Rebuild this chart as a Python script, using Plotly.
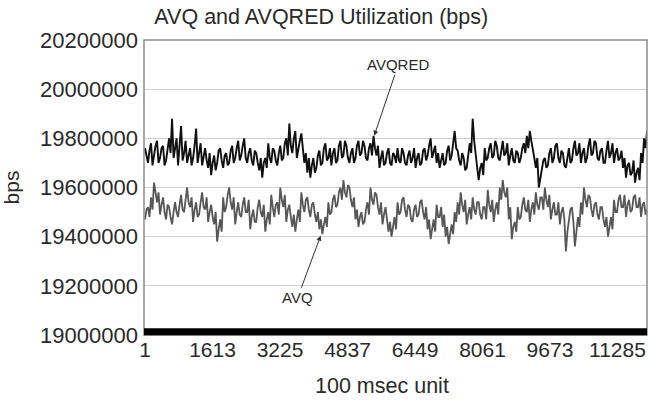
import plotly.graph_objects as go

# Values, in thousands of bps, one sample every STEP time units
STEP = 35.9
avqred_k = [
    19760, 19720, 19700, 19750, 19780, 19690, 19730, 19770, 19790, 19700,
    19720, 19760, 19770, 19690, 19710, 19760, 19800, 19740, 19880, 19720,
    19760, 19800, 19690, 19770, 19850, 19710, 19740, 19790, 19700, 19730,
    19760, 19690, 19720, 19770, 19840, 19700, 19750, 19780, 19690, 19730,
    19760, 19710, 19680, 19740, 19650, 19700, 19730, 19670, 19700, 19750,
    19760, 19710, 19680, 19730, 19740, 19690, 19700, 19750, 19770, 19700,
    19720, 19760, 19790, 19710, 19730, 19770, 19800, 19720, 19700, 19740,
    19760, 19710, 19690, 19750, 19740, 19700, 19670, 19720, 19640, 19700,
    19720, 19680, 19780, 19720, 19700, 19760, 19750, 19710, 19690, 19740,
    19770, 19710, 19720, 19780, 19800, 19730, 19860, 19770, 19740, 19800,
    19830, 19720, 19760, 19790, 19820, 19740, 19700, 19740, 19660, 19720,
    19640, 19690, 19720, 19660, 19680, 19730, 19750, 19690, 19700, 19760,
    19780, 19710, 19720, 19760, 19690, 19740, 19760, 19700, 19710, 19770,
    19790, 19720, 19730, 19790, 19770, 19720, 19700, 19740, 19760, 19700,
    19720, 19770, 19790, 19730, 19740, 19790, 19770, 19720, 19710, 19760,
    19780, 19730, 19810, 19760, 19730, 19770, 19680, 19720, 19750, 19690,
    19700, 19740, 19760, 19700, 19690, 19740, 19730, 19700, 19760, 19710,
    19700, 19760, 19740, 19700, 19690, 19730, 19750, 19700, 19720, 19760,
    19680, 19720, 19740, 19690, 19700, 19750, 19760, 19710, 19730, 19770,
    19800, 19720, 19740, 19770, 19700, 19740, 19680, 19710, 19740, 19690,
    19700, 19750, 19770, 19710, 19730, 19780, 19830, 19760, 19750, 19710,
    19690, 19740, 19720, 19670, 19680, 19730, 19780, 19740, 19880, 19790,
    19720, 19680, 19630, 19680, 19700, 19650, 19760, 19710, 19720, 19760,
    19780, 19720, 19730, 19790, 19770, 19720, 19710, 19760, 19790, 19730,
    19740, 19780, 19690, 19730, 19760, 19710, 19700, 19750, 19740, 19700,
    19720, 19760, 19780, 19740, 19810, 19760, 19830, 19790, 19760, 19720,
    19680, 19720, 19600, 19640, 19660, 19710, 19720, 19680, 19690, 19740,
    19760, 19700, 19720, 19770, 19780, 19720, 19700, 19750, 19740, 19690,
    19680, 19730, 19760, 19700, 19710, 19760, 19790, 19730, 19740, 19780,
    19700, 19740, 19760, 19700, 19720, 19770, 19800, 19730, 19740, 19790,
    19780, 19720, 19710, 19750, 19760, 19700, 19700, 19750, 19790, 19720,
    19740, 19780, 19700, 19740, 19760, 19710, 19720, 19750, 19680, 19720,
    19640, 19690, 19700, 19650, 19660, 19710, 19620, 19660, 19680, 19630,
    19740, 19700, 19800, 19760, 19830,
]
avq_k = [
    19470, 19510, 19520, 19480, 19560, 19510, 19620, 19570, 19540, 19580,
    19490, 19530, 19560, 19500, 19470, 19530, 19520, 19480, 19450, 19500,
    19540, 19500, 19480, 19530, 19570, 19510, 19500, 19550, 19600, 19540,
    19520, 19560, 19460, 19510, 19540, 19480, 19490, 19540, 19580, 19520,
    19510, 19560, 19460, 19500, 19530, 19480, 19450, 19500, 19380, 19430,
    19470, 19420, 19560, 19500, 19520, 19570, 19600, 19540, 19510, 19560,
    19450, 19500, 19540, 19490, 19480, 19530, 19560, 19500, 19500, 19550,
    19430, 19480, 19510, 19460, 19460, 19520, 19550, 19500, 19480, 19530,
    19420, 19470, 19500, 19450, 19570, 19520, 19480, 19530, 19540, 19490,
    19600, 19550, 19520, 19570, 19460, 19510, 19530, 19480, 19440, 19490,
    19420, 19470, 19510, 19460, 19580, 19530, 19500, 19550, 19560, 19510,
    19480, 19530, 19540, 19490, 19460, 19500, 19430, 19470, 19410, 19450,
    19480, 19440, 19540, 19490, 19500, 19550, 19570, 19520, 19530, 19580,
    19600, 19550, 19630, 19580, 19560, 19610, 19600, 19550, 19520, 19560,
    19470, 19510, 19440, 19480, 19500, 19450, 19460, 19510, 19540, 19490,
    19600, 19550, 19530, 19580, 19570, 19520, 19490, 19540, 19450, 19490,
    19520, 19470, 19420, 19460, 19400, 19440, 19480, 19430, 19540, 19490,
    19500, 19550, 19560, 19510, 19480, 19530, 19520, 19470, 19460, 19510,
    19530, 19480, 19490, 19540, 19550, 19500, 19470, 19520, 19430, 19470,
    19390, 19430, 19470, 19420, 19530, 19480, 19480, 19520, 19440, 19490,
    19400, 19440, 19370, 19410, 19450, 19410, 19500, 19460, 19540, 19490,
    19580, 19530, 19500, 19550, 19450, 19490, 19520, 19470, 19560, 19510,
    19490, 19540, 19540, 19490, 19470, 19520, 19520, 19470, 19590, 19530,
    19500, 19550, 19460, 19510, 19540, 19490, 19600, 19550, 19630, 19580,
    19560, 19600, 19470, 19520, 19390, 19440, 19460, 19420, 19520, 19470,
    19480, 19530, 19560, 19510, 19500, 19550, 19460, 19510, 19540, 19490,
    19580, 19530, 19510, 19560, 19560, 19510, 19600, 19550, 19520, 19570,
    19470, 19510, 19540, 19490, 19490, 19540, 19450, 19500, 19520, 19470,
    19340, 19420, 19460, 19510, 19520, 19460, 19360, 19430, 19480, 19440,
    19540, 19490, 19600, 19550, 19520, 19570, 19560, 19510, 19480, 19530,
    19540, 19490, 19470, 19520, 19520, 19470, 19440, 19480, 19400, 19440,
    19480, 19430, 19550, 19500, 19500, 19550, 19570, 19520, 19520, 19570,
    19480, 19530, 19550, 19500, 19510, 19560, 19570, 19520, 19520, 19560,
    19480, 19530, 19540, 19490, 19510,
]
x_ticks = [1, 1613, 3225, 4837, 6449, 8061, 9673, 11285]
y_ticks = [19000000, 19200000, 19400000, 19600000, 19800000, 20000000, 20200000]

x = [1 + i * STEP for i in range(len(avqred_k))]
avqred = [v * 1000 for v in avqred_k]
avq = [v * 1000 for v in avq_k]

FONT = "Liberation Sans"
TXT = "#2a2a2a"

fig = go.Figure()
fig.add_trace(go.Scatter(x=x, y=avq, mode="lines", name="AVQ",
                         line=dict(color="#575757", width=1.8)))
fig.add_trace(go.Scatter(x=x, y=avqred, mode="lines", name="AVQRED",
                         line=dict(color="#101010", width=1.9)))

fig.update_layout(
    width=649, height=401,
    margin=dict(l=144, r=2, t=40, b=66),
    paper_bgcolor="white", plot_bgcolor="white",
    showlegend=False,
    font=dict(family=FONT, size=21, color=TXT),
    title=dict(text="AVQ and AVQRED Utilization (bps)", x=0.495, xref="container",
               xanchor="center", y=0.958, yanchor="middle",
               font=dict(family=FONT, size=21.5, color=TXT)),
    xaxis=dict(range=[-23, 11990], tickvals=x_ticks, ticktext=[str(t) for t in x_ticks],
               showgrid=False, zeroline=False, showline=False, ticks="",
               automargin=False, ticklabeloverflow="allow",
               tickfont=dict(size=21)),
    yaxis=dict(range=[19000000, 20200000], tickvals=y_ticks,
               ticktext=[str(t) for t in y_ticks],
               showgrid=True, gridcolor="#d0d0d0", gridwidth=1,
               zeroline=False, showline=False, ticks="",
               automargin=False, ticklabelstandoff=5,
               title=dict(text="bps", standoff=18, font=dict(size=21)),
               tickfont=dict(size=22)),
    shapes=[
        dict(type="rect", xref="paper", yref="paper", x0=0, x1=1, y0=0, y1=1,
             line=dict(color="#8c8c8c", width=1.5), layer="above"),
        dict(type="line", xref="paper", yref="y domain", x0=0, x1=1, y0=0.011, y1=0.011,
             line=dict(color="#000000", width=7), layer="above"),
    ],
    annotations=[
        # x-axis title, slightly left of the plot centre as in the source
        dict(x=0.473, y=-0.1715, xref="paper", yref="paper", yanchor="middle",
             text="100 msec unit", showarrow=False,
             font=dict(family=FONT, size=21.5, color=TXT)),
        dict(x=5476, y=19811000, xref="x", yref="y", text="AVQRED", showarrow=True,
             ax=24, ay=-71, arrowhead=2, arrowsize=1, arrowwidth=1, arrowcolor="#333",
             font=dict(family=FONT, size=15, color=TXT)),
        dict(x=4196, y=19404000, xref="x", yref="y", text="AVQ", showarrow=True,
             ax=-23, ay=62, arrowhead=2, arrowsize=1, arrowwidth=1, arrowcolor="#333",
             font=dict(family=FONT, size=15, color=TXT)),
    ],
)

fig.write_html(
    "out.html",
    config={"displayModeBar": False},
    post_script="document.body.style.margin='0';document.body.style.overflow='hidden';",
)
